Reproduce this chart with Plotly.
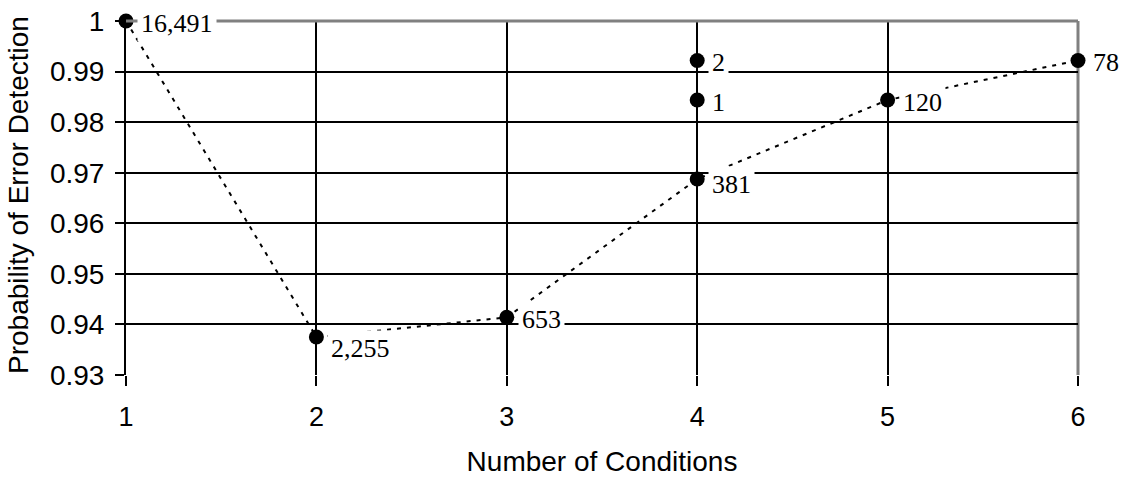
import plotly.graph_objects as go

conditions = [1, 2, 3, 4, 5, 6]
probability = [1.0, 0.9375, 0.9414, 0.96875, 0.984375, 0.9922]
counts = ["16,491", "2,255", "653", "381", "120", "78"]

extra_conditions = [4, 4]
extra_probability = [0.984375, 0.9922]
extra_counts = ["1", "2"]

y_ticks = [0.93, 0.94, 0.95, 0.96, 0.97, 0.98, 0.99, 1.0]
y_tick_text = ["0.93", "0.94", "0.95", "0.96", "0.97", "0.98", "0.99", "1"]

x_title = "Number of Conditions"
y_title = "Probability of Error Detection"

SANS = "Liberation Sans, Arial, sans-serif"
SERIF = "Liberation Serif, Times New Roman, serif"

fig = go.Figure()
fig.add_trace(go.Scatter(
    x=conditions, y=probability, mode="lines+markers",
    line=dict(color="black", width=2, dash="4px,6px"),
    marker=dict(color="black", size=15),
    cliponaxis=False, showlegend=False, hoverinfo="skip"))
fig.add_trace(go.Scatter(
    x=extra_conditions, y=extra_probability, mode="markers",
    marker=dict(color="black", size=15),
    cliponaxis=False, showlegend=False, hoverinfo="skip"))

label_drop = {"2,255": -11, "381": -5}
for xs, ys, ts in [(conditions, probability, counts),
                   (extra_conditions, extra_probability, extra_counts)]:
    for xv, yv, t in zip(xs, ys, ts):
        fig.add_annotation(
            x=xv, y=yv, xref="x", yref="y", text=t, showarrow=False,
            xanchor="left", yanchor="middle", xshift=11,
            yshift=label_drop.get(t, -2),
            bgcolor="white", borderpad=3,
            font=dict(family=SERIF, size=26, color="black"))

# y-axis title placed as rotated text left of the tick labels
fig.add_annotation(
    x=0, y=0.5, xref="paper", yref="paper", text=y_title, showarrow=False,
    textangle=-90, xanchor="center", yanchor="middle", xshift=-108, yshift=3,
    font=dict(family=SANS, size=28, color="black"))

# gray top and right borders
fig.add_shape(type="line", xref="paper", yref="paper", x0=0, x1=1, y0=1, y1=1,
              line=dict(color="#808080", width=3), layer="above")
fig.add_shape(type="line", xref="paper", yref="paper", x0=1, x1=1, y0=0, y1=1,
              line=dict(color="#808080", width=3), layer="below")

fig.update_xaxes(
    range=[1, 6], tickmode="array", tickvals=conditions,
    showgrid=True, gridcolor="black", gridwidth=2,
    showline=False, zeroline=False, automargin=False,
    ticks="outside", ticklen=10, tickwidth=2, tickcolor="black",
    ticklabelstandoff=8,
    tickfont=dict(family=SANS, size=27, color="black"),
    title=dict(text=x_title, font=dict(family=SANS, size=28, color="black"), standoff=19))
fig.update_yaxes(
    range=[0.93, 1.0], tickmode="array", tickvals=y_ticks, ticktext=y_tick_text,
    showgrid=True, gridcolor="black", gridwidth=2,
    showline=True, linecolor="black", linewidth=2, mirror=False,
    zeroline=False, automargin=False,
    ticks="outside", ticklen=9, tickwidth=2, tickcolor="black",
    ticklabelstandoff=5,
    tickfont=dict(family=SANS, size=28, color="black"))

fig.update_layout(
    width=1123, height=478,
    margin=dict(l=126, r=45, t=21, b=103, autoexpand=False),
    plot_bgcolor="white", paper_bgcolor="white",
)

fig.write_html("out.html", config={"displayModeBar": False},
               post_script="document.body.style.margin='0';document.body.style.padding='0';")
